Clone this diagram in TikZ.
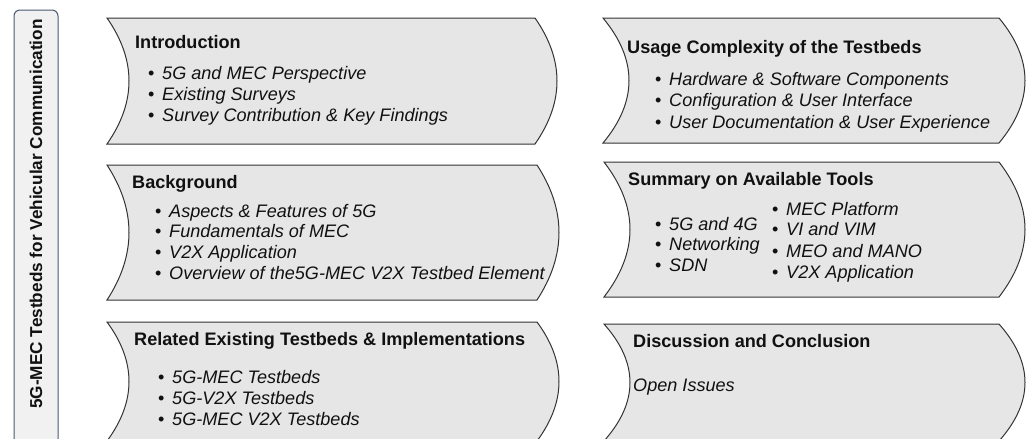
\documentclass[tikz,border=0pt]{standalone}
\usepackage{fontspec}
\setmainfont{Liberation Sans}
\definecolor{boxfill}{HTML}{E6E6E6}
\definecolor{boxline}{HTML}{333333}
\definecolor{sidefill}{HTML}{F1F1F1}
\definecolor{sideline}{HTML}{4A5870}
\definecolor{txt}{HTML}{111111}
\newcommand\chevshape[5]{% x0 x1 top bottom depth
  \filldraw[chev] (#1,#3) -- (#2,#3)
    .. controls ({#2+4/3*#5},{#3+(#4-#3)/3}) and ({#2+4/3*#5},{#3+2*(#4-#3)/3}) .. (#2,#4)
    -- (#1,#4)
    .. controls ({#1+4/3*#5},{#3+2*(#4-#3)/3}) and ({#1+4/3*#5},{#3+(#4-#3)/3}) .. cycle;}
\begin{document}
\begin{tikzpicture}[x=1pt,y=-1pt,
  chev/.style={fill=boxfill,draw=boxline,line width=1pt},
  ttl/.style={anchor=base west,inner sep=0,text=txt,font=\bfseries\fontsize{18.1}{21}\selectfont},
  itm/.style={anchor=base west,inner sep=0,text=txt,font=\itshape\fontsize{18.1}{21}\selectfont},
]
\useasboundingbox (0,0) rectangle (1029,439);
\begin{scope}
\clip (0,0) rectangle (1029,439);
% side bar
\filldraw[fill=sidefill,draw=sideline,line width=1pt,rounded corners=6pt] (14,10) rectangle (58,460);
\node[rotate=90,inner sep=0,text=txt,font=\bfseries\fontsize{17.2}{17}\selectfont] (side) at (36,214) {5G-MEC Testbeds for Vehicular Communication};
% shapes
\chevshape{107}{535}{18}{144}{22}
\chevshape{107}{537}{165}{300}{22}
\chevshape{107}{537}{322}{441}{22}
\chevshape{603}{999}{18}{143}{26}
\chevshape{604}{999}{162}{297}{26}
\chevshape{604}{999}{324}{441}{26}
\end{scope}
\newcommand\bul[1]{\makebox[14pt][l]{\upshape\textbullet}#1}
% Introduction
\node[ttl] (t1) at (135,48) {Introduction};
\node[itm] (a1) at (148,79) {\bul{5G and MEC Perspective}};
\node[itm] (a2) at (148,100) {\bul{Existing Surveys}};
\node[itm] (a3) at (148,121) {\bul{Survey Contribution \& Key Findings}};
% Background
\node[ttl] (t2) at (132,188) {Background};
\node[itm] (b1) at (155,217) {\bul{Aspects \& Features of 5G}};
\node[itm] (b2) at (155,237) {\bul{Fundamentals of MEC}};
\node[itm] (b3) at (155,258) {\bul{V2X Application}};
\node[itm] (b4) at (155,279) {\bul{Overview of the5G-MEC V2X Testbed Element}};
% Related
\node[ttl] (t3) at (134,345) {Related Existing Testbeds \& Implementations};
\node[itm] (c1) at (158,383) {\bul{5G-MEC Testbeds}};
\node[itm] (c2) at (158,404) {\bul{5G-V2X Testbeds}};
\node[itm] (c3) at (158,425) {\bul{5G-MEC V2X Testbeds}};
% Usage
\node[ttl] (t4) at (627,53) {Usage Complexity of the Testbeds};
\node[itm] (d1) at (655,85) {\bul{Hardware \& Software Components}};
\node[itm] (d2) at (655,106) {\bul{Configuration \& User Interface}};
\node[itm] (d3) at (655,128) {\bul{User Documentation \& User Experience}};
% Summary
\node[ttl] (t5) at (628,185) {Summary on Available Tools};
\node[itm] (e1) at (655,230) {\bul{5G and 4G}};
\node[itm] (e2) at (655,250) {\bul{Networking}};
\node[itm] (e3) at (655,271) {\bul{SDN}};
\node[itm] (f1) at (772,215) {\bul{MEC Platform}};
\node[itm] (f2) at (772,235) {\bul{VI and VIM}};
\node[itm] (f3) at (772,257) {\bul{MEO and MANO}};
\node[itm] (f4) at (772,278) {\bul{V2X Application}};
% Discussion
\node[ttl] (t6) at (633,347) {Discussion and Conclusion};
\node[itm] (g1) at (633,391) {Open Issues};
\end{tikzpicture}
\end{document}
